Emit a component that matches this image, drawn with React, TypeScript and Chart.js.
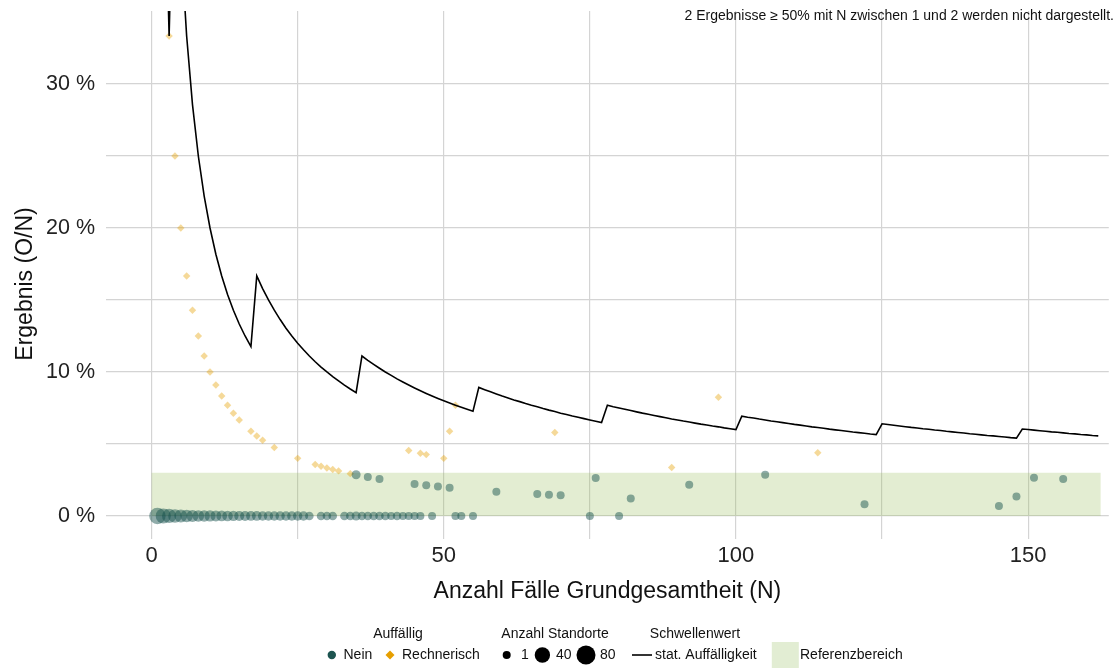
import React, { useEffect, useRef } from 'react';
import { Chart, registerables } from 'chart.js';

Chart.register(...registerables);

const FONT = '"Liberation Sans", Arial, Helvetica, sans-serif';

// Threshold (stat. Auffälligkeit) in %, for N = 1 .. 162
const thresholdValues = [
  100, 50, 33.33,
  50, 40, 33.33, 28.57, 25, 22.22, 20, 18.18, 16.67, 15.38, 14.29, 13.33, 12.5, 11.76,
  16.67, 15.79, 15, 14.29, 13.64, 13.04, 12.5, 12, 11.54, 11.11, 10.71, 10.34, 10, 9.68, 9.38, 9.09, 8.82, 8.57,
  11.11, 10.81, 10.53, 10.26, 10, 9.76, 9.52, 9.3, 9.09, 8.89, 8.7, 8.51, 8.33, 8.16, 8, 7.84, 7.69, 7.55, 7.41, 7.27,
  8.93, 8.77, 8.62, 8.47, 8.33, 8.2, 8.06, 7.94, 7.81, 7.69, 7.58, 7.46, 7.35, 7.25, 7.14, 7.04, 6.94, 6.85, 6.76, 6.67, 6.58, 6.49,
  7.69, 7.59, 7.5, 7.41, 7.32, 7.23, 7.14, 7.06, 6.98, 6.9, 6.82, 6.74, 6.67, 6.59, 6.52, 6.45, 6.38, 6.32, 6.25, 6.19, 6.12, 6.06, 6,
  6.93, 6.86, 6.8, 6.73, 6.67, 6.6, 6.54, 6.48, 6.42, 6.36, 6.31, 6.25, 6.19, 6.14, 6.09, 6.03, 5.98, 5.93, 5.88, 5.83, 5.79, 5.74, 5.69, 5.65,
  6.4, 6.35, 6.3, 6.25, 6.2, 6.15, 6.11, 6.06, 6.02, 5.97, 5.93, 5.88, 5.84, 5.8, 5.76, 5.71, 5.67, 5.63, 5.59, 5.56, 5.52, 5.48, 5.44, 5.41,
  6.04, 6, 5.96, 5.92, 5.88, 5.84, 5.81, 5.77, 5.73, 5.7, 5.66, 5.63, 5.59, 5.56,
];

// Auffällig = Nein
const neinN = [
  1, 2, 3, 4, 5, 6, 7, 8, 9, 10, 11, 12, 13, 14, 15, 16, 17, 18, 19, 20, 21, 22, 23, 24, 25, 26, 27, 29, 30, 31,
  33, 34, 35, 36, 37, 38, 39, 40, 41, 42, 43, 44, 45, 46, 48, 52, 53, 55, 75, 80,
  35, 37, 39, 45, 47, 49, 51, 59, 66, 68, 70, 76, 82, 92, 105, 122, 145, 148, 151, 156,
];
const neinValues = [
  0, 0, 0, 0, 0, 0, 0, 0, 0, 0, 0, 0, 0, 0, 0, 0, 0, 0, 0, 0, 0, 0, 0, 0, 0, 0, 0, 0, 0, 0,
  0, 0, 0, 0, 0, 0, 0, 0, 0, 0, 0, 0, 0, 0, 0, 0, 0, 0, 0, 0,
  2.86, 2.7, 2.56, 2.22, 2.13, 2.04, 1.96, 1.69, 1.52, 1.47, 1.43, 2.63, 1.22, 2.17, 2.86, 0.82, 0.69, 1.35, 2.65, 2.56,
];
const neinCounts = [
  50, 38, 30, 25, 21, 18, 15, 13, 12, 11, 10, 9, 8, 7, 6, 6, 5, 5, 4, 4, 4, 4, 4, 4, 4, 4, 2, 2, 2, 2,
  2, 2, 3, 2, 2, 2, 2, 2, 1, 2, 1, 1, 1, 1, 1, 1, 1, 1, 1, 1,
  3, 1, 1, 1, 1, 1, 1, 1, 1, 1, 1, 1, 1, 1, 1, 1, 1, 1, 1, 1,
];

// Auffällig = Rechnerisch
const rechnerischN = [3, 4, 5, 6, 7, 8, 9, 10, 11, 12, 13, 14, 15, 17, 18, 19, 21, 25, 28, 29, 30, 31, 32, 34, 44, 46, 47, 50, 51, 52, 69, 89, 97, 114];
const rechnerischValues = [33.33, 25, 20, 16.67, 14.29, 12.5, 11.11, 10, 9.09, 8.33, 7.69, 7.14, 6.67, 5.88, 5.56, 5.26, 4.76, 4, 3.57, 3.45, 3.33, 3.23, 3.13, 2.94, 4.55, 4.35, 4.26, 4, 5.88, 7.69, 5.8, 3.37, 8.25, 4.39];
const rechnerischCounts = [1, 1, 1, 1, 1, 1, 1, 1, 1, 1, 1, 1, 1, 1, 1, 1, 1, 1, 1, 1, 1, 1, 1, 1, 1, 1, 1, 1, 1, 1, 1, 1, 1, 1];

const referenceLow = 0;
const referenceHigh = 3;
const referenceXStart = 0;
const referenceXEnd = 162.4;

const xTicks = [0, 25, 50, 75, 100, 125, 150];
const yTicks = [0, 5, 10, 15, 20, 25, 30];
const sizeBreaks = [1, 40, 80];

const NEIN_SOLID = '#1d5450';
const NEIN_FILL = 'rgba(20,78,74,0.47)';
const ORANGE_SOLID = '#E69F00';
const ORANGE_FILL = 'rgba(230,159,0,0.4)';
const BAND_FILL = 'rgba(150,190,90,0.27)';
const BAND_SOLID = '#e2edd3';

const sizeRadius = (c: number) => 3.31 + 0.693 * Math.sqrt(c);

const extrasPlugin = {
  id: 'extras',
  beforeDatasetsDraw(chart: any) {
    const { ctx, chartArea, scales } = chart;
    const x = scales.x;
    const y = scales.y;
    ctx.save();
    ctx.beginPath();
    ctx.rect(chartArea.left, chartArea.top, chartArea.right - chartArea.left, chartArea.bottom - chartArea.top);
    ctx.clip();
    const x0 = x.getPixelForValue(referenceXStart);
    const x1 = x.getPixelForValue(referenceXEnd);
    const y0 = y.getPixelForValue(referenceHigh);
    const y1 = y.getPixelForValue(referenceLow);
    ctx.fillStyle = BAND_FILL;
    ctx.fillRect(x0, y0, x1 - x0, y1 - y0);
    ctx.restore();
  },
  afterDraw(chart: any) {
    const { ctx, chartArea } = chart;
    ctx.save();
    ctx.fillStyle = '#111';
    ctx.textBaseline = 'middle';

    // axis titles
    ctx.font = `23px ${FONT}`;
    ctx.textAlign = 'center';
    ctx.fillText('Anzahl Fälle Grundgesamtheit (N)', (chartArea.left + chartArea.right) / 2, 592);
    ctx.save();
    ctx.translate(26, 284);
    ctx.rotate(-Math.PI / 2);
    ctx.fillText('Ergebnis (O/N)', 0, 0);
    ctx.restore();

    // note
    ctx.font = `14px ${FONT}`;
    ctx.textAlign = 'right';
    ctx.fillText('2 Ergebnisse ≥ 50% mit N zwischen 1 und 2 werden nicht dargestellt.', 1114, 16);

    // legend
    const ty = 634;
    const iy = 655;
    ctx.textAlign = 'center';
    ctx.fillText('Auffällig', 398, ty);
    ctx.fillText('Anzahl Standorte', 555, ty);
    ctx.fillText('Schwellenwert', 695, ty);

    ctx.textAlign = 'left';
    // Nein
    ctx.fillStyle = NEIN_SOLID;
    ctx.beginPath();
    ctx.arc(331.8, iy, 4.2, 0, Math.PI * 2);
    ctx.fill();
    ctx.fillStyle = '#111';
    ctx.fillText('Nein', 343.5, iy);
    // Rechnerisch
    ctx.fillStyle = ORANGE_SOLID;
    ctx.beginPath();
    ctx.moveTo(390, iy - 4.5);
    ctx.lineTo(394.5, iy);
    ctx.lineTo(390, iy + 4.5);
    ctx.lineTo(385.5, iy);
    ctx.closePath();
    ctx.fill();
    ctx.fillStyle = '#111';
    ctx.fillText('Rechnerisch', 402, iy);

    // sizes
    const dotX = [506.7, 542.4, 586];
    const labX = [521, 556, 600];
    sizeBreaks.forEach((b, i) => {
      ctx.fillStyle = '#000';
      ctx.beginPath();
      ctx.arc(dotX[i], iy, sizeRadius(b), 0, Math.PI * 2);
      ctx.fill();
      ctx.fillStyle = '#111';
      ctx.fillText(String(b), labX[i], iy);
    });

    // line
    ctx.strokeStyle = '#000';
    ctx.lineWidth = 1.6;
    ctx.beginPath();
    ctx.moveTo(632, iy);
    ctx.lineTo(652, iy);
    ctx.stroke();
    ctx.fillText('stat. Auffälligkeit', 655, iy);

    // reference box
    ctx.fillStyle = BAND_SOLID;
    ctx.fillRect(771.8, 642, 27, 26);
    ctx.fillStyle = '#111';
    ctx.fillText('Referenzbereich', 800, iy);

    ctx.restore();
  },
};

export default function App() {
  const ref = useRef<HTMLCanvasElement | null>(null);

  useEffect(() => {
    const canvas = ref.current;
    if (!canvas) return;
    const chart = new Chart(canvas, {
      type: 'scatter',
      data: {
        datasets: [
          {
            type: 'line',
            label: 'stat. Auffälligkeit',
            data: thresholdValues.map((v, i) => ({ x: i + 1, y: v })),
            borderColor: '#000',
            borderWidth: 1.6,
            pointRadius: 0,
            fill: false,
            tension: 0,
            order: 0,
          } as any,
          {
            label: 'Nein',
            data: neinN.map((n, i) => ({ x: n, y: neinValues[i] })),
            pointRadius: neinCounts.map(sizeRadius),
            backgroundColor: NEIN_FILL,
            borderWidth: 0,
            order: 1,
          },
          {
            label: 'Rechnerisch',
            data: rechnerischN.map((n, i) => ({ x: n, y: rechnerischValues[i] })),
            pointStyle: 'rectRot',
            pointRadius: rechnerischCounts.map((c) => sizeRadius(c) * 0.93),
            backgroundColor: ORANGE_FILL,
            borderWidth: 0,
            order: 2,
          },
        ],
      },
      options: {
        animation: false,
        responsive: false,
        events: [],
        layout: { padding: { left: 0, top: 11, right: 5, bottom: 0 } },
        plugins: { legend: { display: false }, tooltip: { enabled: false } },
        scales: {
          x: {
            type: 'linear',
            min: -7.8,
            max: 163.8,
            afterBuildTicks: (s: any) => {
              s.ticks = xTicks.map((v) => ({ value: v }));
            },
            afterFit: (s: any) => {
              s.height = 129;
              s.paddingLeft = 0;
              s.paddingRight = 0;
              s.paddingTop = 0;
              s.paddingBottom = 0;
            },
            grid: { color: '#d4d4d4', lineWidth: 1.2, drawTicks: false },
            border: { display: false },
            ticks: {
              padding: 4,
              color: '#222',
              font: { family: FONT, size: 22 },
              maxRotation: 0,
              autoSkip: false,
              callback: (v: any) => (Number(v) % 50 === 0 ? String(v) : ''),
            },
          },
          y: {
            type: 'linear',
            min: -1.6,
            max: 35.07,
            afterBuildTicks: (s: any) => {
              s.ticks = yTicks.map((v) => ({ value: v }));
            },
            afterFit: (s: any) => {
              s.width = 106;
              s.paddingLeft = 0;
              s.paddingRight = 0;
              s.paddingTop = 0;
              s.paddingBottom = 0;
            },
            grid: { color: '#d4d4d4', lineWidth: 1.2, drawTicks: false },
            border: { display: false },
            ticks: {
              padding: 11,
              color: '#222',
              font: { family: FONT, size: 21.5 },
              autoSkip: false,
              callback: (v: any) => (Number(v) % 10 === 0 ? `${v} %` : ''),
            },
          },
        },
      },
      plugins: [extrasPlugin],
    });
    return () => chart.destroy();
  }, []);

  return (
    <div style={{ position: 'fixed', left: 0, top: 0, width: 1117, height: 668, background: '#fff' }}>
      <canvas ref={ref} width={1117} height={668} style={{ display: 'block', width: 1117, height: 668 }} />
    </div>
  );
}
